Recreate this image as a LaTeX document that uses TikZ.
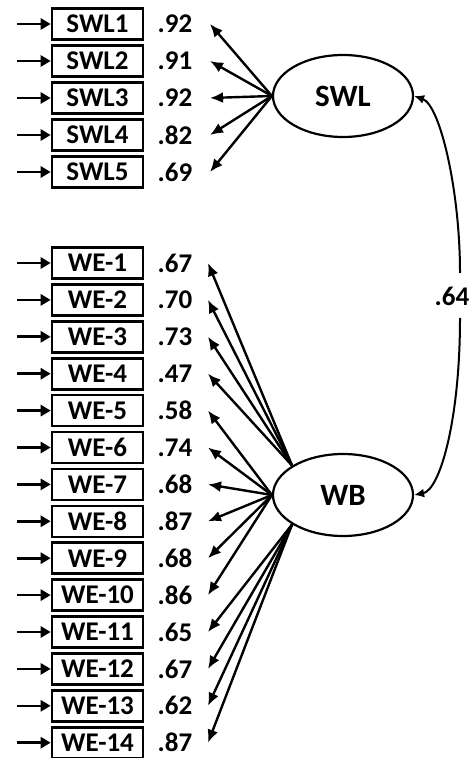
\documentclass[tikz,border=0pt]{standalone}
\usepackage{fontspec}
\setmainfont{Carlito}
\usetikzlibrary{positioning,arrows.meta,shapes.geometric}

\begin{document}
\begin{tikzpicture}[
  x=0.5pt,y=0.5pt,
  font=\fontsize{13.5}{16}\selectfont\bfseries,
  item/.style={draw,line width=1.3pt,minimum width=45.5pt,minimum height=15.5pt,inner sep=1pt},
  latent/.style={draw,ellipse,line width=1.1pt,minimum width=70pt,minimum height=41pt,inner sep=0pt,font=\fontsize{15.5}{18}\selectfont\bfseries},
  inarr/.style={-{Triangle[length=5pt,width=5.5pt]},line width=1.3pt},
  load/.style={-{Latex[length=6.5pt,width=5.5pt]},line width=1.2pt},
  corr/.style={-{Latex[length=5pt,width=4.5pt]},line width=1pt}
]
\useasboundingbox (0,0) rectangle (468,-758);
\node[latent] (swl) at (343,-96) {SWL};
\node[latent] (wb) at (343,-495) {WB};
\foreach \v [count=\i] in {.92,.91,.92,.82,.69}{
  \pgfmathsetmacro\ry{-24-37*(\i-1)}
  \node[item] (s\i) at (97.5,\ry) {SWL\i};
  \node (ls\i) at (175,\ry) {\v};
  \coordinate (ins\i) at (17,\ry);
  \coordinate (ts\i) at (210,\ry);
  \draw[inarr] (ins\i) -- (s\i);
  \draw[load] (swl.west) -- (ts\i);
}
\foreach \v [count=\i] in {.67,.70,.73,.47,.58,.74,.68,.87,.68,.86,.65,.67,.62,.87}{
  \pgfmathsetmacro\ry{-263-36.9*(\i-1)}
  \ifnum\i<5 \def\src{wb.150}\else\ifnum\i<11 \def\src{wb.west}\else\def\src{wb.210}\fi\fi
  \node[item] (w\i) at (97.5,\ry) {WE-\i};
  \node (lw\i) at (175,\ry) {\v};
  \coordinate (inw\i) at (17,\ry);
  \coordinate (tw\i) at (208,\ry);
  \draw[inarr] (inw\i) -- (w\i);
  \draw[load] (\src) -- (tw\i);
}
\coordinate (c1) at (460,-273);
\coordinate (c2) at (460,-318);
\node (r) at (452,-296) {.64};
\draw[corr] (c1) .. controls (460,-190) and (440,-105) .. (swl.east);
\draw[corr] (c2) .. controls (460,-420) and (440,-490) .. (wb.east);
\end{tikzpicture}
\end{document}
